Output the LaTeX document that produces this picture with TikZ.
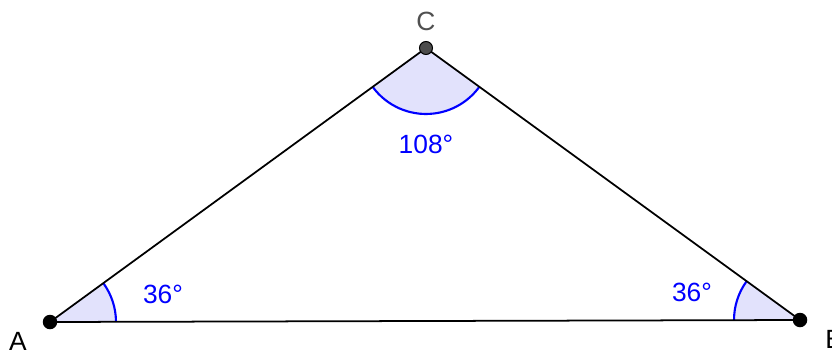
\documentclass[tikz,border=0pt]{standalone}
\usepackage{fontspec}
\setmainfont{Liberation Sans}
\usetikzlibrary{angles}
\definecolor{anglefill}{RGB}{226,226,252}
\definecolor{labelgray}{RGB}{80,80,80}

\begin{document}
\begin{tikzpicture}[
        x=0.02cm, y=-0.02cm,
        font=\fontsize{15}{17}\selectfont,
        point/.style={
            circle,
            fill=black,
            inner sep=0pt,
            minimum size=0.29cm
        },
        side/.style={line width=1pt, draw=black},
        anglemark/.style={
            draw=blue,
            line width=1.2pt,
            fill=anglefill,
            angle radius=1.32cm
        },
        measure/.style={text=blue}
    ]
    \useasboundingbox (0,0) rectangle (832,349);

    \coordinate (A) at (50,322);
    \coordinate (B) at (800,320);
    \coordinate (C) at (426,48);

    % angle marks
    \pic [anglemark] {angle = B--A--C};
    \pic [anglemark] {angle = C--B--A};
    \pic [anglemark] {angle = A--C--B};

    % sides
    \draw [side] (A) -- (B) -- (C) -- cycle;

    % vertices
    \node (dotA) [point] at (A) {};
    \node (dotB) [point] at (B) {};
    \node (dotC) [point, minimum size=0.26cm, fill=black!70, draw=black, line width=0.6pt] at (C) {};

    \node (labA) at (18,341) {A};
    \node (labB) [anchor=west, inner sep=0pt] at (825,339) {B};
    \node (labC) [text=labelgray] at (426,21) {C};

    \node (angA) [measure] at (163,294) {36°};
    \node (angB) [measure] at (692,292) {36°};
    \node (angC) [measure] at (426,144) {108°};
\end{tikzpicture}
\end{document}
